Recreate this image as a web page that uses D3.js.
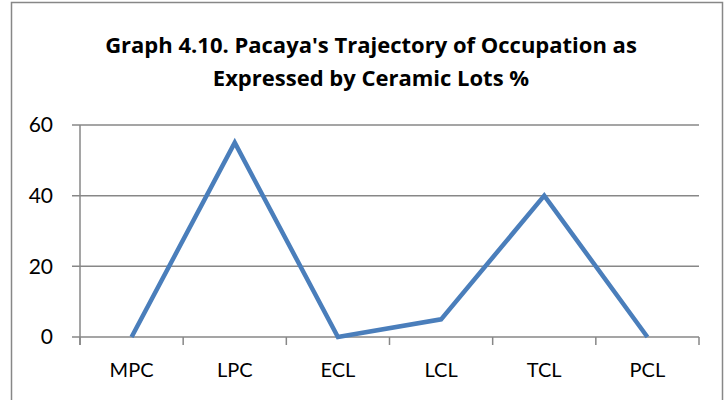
<!DOCTYPE html>
<html><head><meta charset="utf-8">
<script src="https://cdn.jsdelivr.net/npm/d3@7"></script>
<style>body{margin:0;background:#fff}svg{display:block}</style>
</head><body>
<script>
const categories = ["MPC","LPC","ECL","LCL","TCL","PCL"];
const values = [0, 55, 0, 5, 40, 0];
const yTicks = [0, 20, 40, 60];
const titleLines = ["Graph 4.10. Pacaya's Trajectory of Occupation as", "Expressed by Ceramic Lots %"];

(function(){
const W = 728, H = 400;
const font = "Lato, 'Open Sans', sans-serif";
const titleFont = "'Open Sans', sans-serif";
const svg = d3.select("body").append("svg").attr("width", W).attr("height", H);
svg.append("rect").attr("x", 11.5).attr("y", 2.5).attr("width", 711).attr("height", 410)
  .attr("fill", "#fff").attr("stroke", "#878787").attr("stroke-width", 1.5);

const mLeft = 80, mRight = 699, mTop = 125, mBottom = 337;
const x = d3.scaleBand().domain(categories).range([mLeft, mRight]);
const y = d3.scaleLinear().domain([0, 60]).range([mBottom, mTop]);

svg.append("g").selectAll("line").data(yTicks).join("line")
  .attr("x1", mLeft - 8).attr("x2", mRight).attr("y1", d => y(d)).attr("y2", d => y(d))
  .attr("stroke", "#878787").attr("stroke-width", 1.5);
svg.append("line").attr("x1", mLeft).attr("x2", mLeft).attr("y1", mTop).attr("y2", mBottom + 8)
  .attr("stroke", "#878787").attr("stroke-width", 1.5);
const bounds = categories.map(c => x(c) + x.bandwidth()).concat([mLeft]);
svg.append("g").selectAll("line").data(bounds).join("line")
  .attr("x1", d => d).attr("x2", d => d).attr("y1", mBottom).attr("y2", mBottom + 8)
  .attr("stroke", "#878787").attr("stroke-width", 1.5);
svg.append("g").selectAll("text").data(yTicks).join("text")
  .attr("x", 53).attr("y", d => y(d)).attr("dy", "0.35em").attr("text-anchor", "end")
  .attr("font-family", font).attr("font-size", 21).attr("fill", "#000").text(d => d);
svg.append("g").selectAll("text").data(categories).join("text")
  .attr("x", d => x(d) + x.bandwidth() / 2).attr("y", 370).attr("dy", "0.35em").attr("text-anchor", "middle")
  .attr("font-family", font).attr("font-size", 20).attr("fill", "#000").text(d => d);
const line = d3.line().x((d, i) => x(categories[i]) + x.bandwidth() / 2).y(d => y(d));
svg.append("path").datum(values).attr("d", line).attr("fill", "none")
  .attr("stroke", "#4a7ebb").attr("stroke-width", 4.5).attr("stroke-linejoin", "miter");
svg.append("g").selectAll("text").data(titleLines).join("text")
  .attr("x", 371).attr("y", (d, i) => 53 + i * 33).attr("text-anchor", "middle")
  .attr("font-family", titleFont).attr("font-weight", "bold").attr("font-size", 22)
  .attr("fill", "#000").text(d => d);
})();
</script>
</body></html>
